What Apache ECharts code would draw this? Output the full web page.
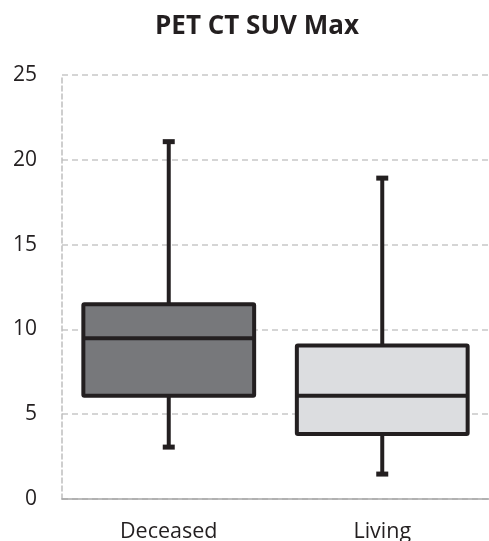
<!DOCTYPE html>
<html>
<head>
<meta charset="utf-8">
<script src="https://cdn.jsdelivr.net/npm/echarts@6/dist/echarts.min.js"></script>
<style>
  html, body { margin: 0; padding: 0; background: #fff; }
  #chart { width: 489px; height: 541px; }
</style>
</head>
<body>
<div id="chart"></div>
<script>
// box plot stats
var categories = ['Deceased', 'Living']
var mins = [3.06, 1.47]
var q1s = [6.09, 3.83]
var medians = [9.48, 6.09]
var q3s = [11.49, 9.05]
var maxs = [21.07, 18.92]
var yTicks = [0, 5, 10, 15, 20, 25]

var fills = ['#77787b', '#dcdde0']
var edge = '#231f20'

var boxData = categories.map(function(c, i) {
  return [i, mins[i], q1s[i], medians[i], q3s[i], maxs[i]]
})

function renderBox(params, api) {
  var i = api.value(0)
  var w = api.size([1, 0])[0] * 0.8
  var x = api.coord([i, 0])[0]
  var pMin = api.coord([i, api.value(1)])[1]
  var pQ1 = api.coord([i, api.value(2)])[1]
  var pMed = api.coord([i, api.value(3)])[1]
  var pQ3 = api.coord([i, api.value(4)])[1]
  var pMax = api.coord([i, api.value(5)])[1]
  var line = { stroke: edge, lineWidth: 4 }
  var capW = 12
  return {
    type: 'group',
    children: [
      { type: 'line', shape: { x1: x, y1: pMax, x2: x, y2: pQ3 }, style: line },
      { type: 'line', shape: { x1: x, y1: pQ1, x2: x, y2: pMin }, style: line },
      { type: 'rect', shape: { x: x - capW / 2, y: pMax - 2.5, width: capW, height: 5 }, style: { fill: edge } },
      { type: 'rect', shape: { x: x - capW / 2, y: pMin - 2.5, width: capW, height: 5 }, style: { fill: edge } },
      { type: 'rect', shape: { x: x - w / 2, y: pQ3, width: w, height: pQ1 - pQ3, r: 1 },
        style: { fill: fills[i], stroke: edge, lineWidth: 4 } },
      { type: 'line', shape: { x1: x - w / 2, y1: pMed, x2: x + w / 2, y2: pMed }, style: line }
    ]
  }
}

var chart = echarts.init(document.getElementById('chart'))
chart.setOption({
  animation: false,
  title: {
    text: 'PET CT SUV Max',
    left: 252,
    textAlign: 'center',
    top: 9,
    textStyle: { fontFamily: 'Open Sans', fontWeight: 'bold', fontSize: 26, color: '#231f20' }
  },
  grid: { left: 62, right: 0, top: 75, bottom: 42, containLabel: false, outerBoundsMode: 'none' },
  xAxis: {
    type: 'category',
    data: categories,
    axisTick: { show: false },
    axisLine: { show: true, lineStyle: { color: '#a6a6a6', width: 1.5 } },
    axisLabel: { color: '#231f20', fontFamily: 'Open Sans', fontSize: 21.5, margin: 22 }
  },
  yAxis: {
    type: 'value',
    min: yTicks[0],
    max: yTicks[yTicks.length - 1],
    interval: 5,
    axisLine: { show: true, lineStyle: { color: '#bfbfbf', width: 1.5, type: [5, 3] } },
    axisTick: { show: false },
    axisLabel: { color: '#231f20', fontFamily: 'Open Sans', fontSize: 21, margin: 25 },
    splitLine: { lineStyle: { color: '#c8c8c8', width: 1.5, type: [6, 4] } }
  },
  series: [{
    type: 'custom',
    renderItem: renderBox,
    encode: { x: 0, y: [1, 2, 3, 4, 5] },
    data: boxData
  }]
})
</script>
</body>
</html>
